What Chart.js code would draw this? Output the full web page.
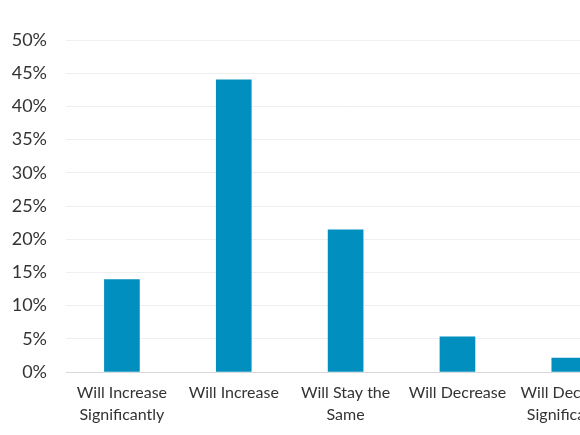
<!DOCTYPE html>
<html>
<head>
<meta charset="utf-8">
<script src="https://cdn.jsdelivr.net/npm/chart.js@4/dist/chart.umd.min.js"></script>
<style>
  html, body { margin: 0; padding: 0; background: #fff; overflow: hidden; }
  #wrap { width: 628px; height: 435px; }
</style>
</head>
<body>
<div id="wrap"><canvas id="chart" width="628" height="435"></canvas></div>
<script>
// data
const categories = [
  ['Will Increase', 'Significantly'],
  'Will Increase',
  ['Will Stay the', 'Same'],
  'Will Decrease',
  ['Will Decrease', 'Significantly']
];
const shares = [13.9, 44.0, 21.4, 5.3, 2.1];
const yTicks = [0, 5, 10, 15, 20, 25, 30, 35, 40, 45, 50];

const txt = '#333333';
const fontFam = "Lato, 'Open Sans', sans-serif";

new Chart(document.getElementById('chart'), {
  type: 'bar',
  data: {
    labels: categories,
    datasets: [{
      data: shares,
      backgroundColor: '#008fbf',
      borderWidth: 0,
      barThickness: 35
    }]
  },
  options: {
    responsive: false,
    animation: false,
    devicePixelRatio: 1,
    layout: { padding: { top: 40, left: 0, right: 0, bottom: 0 } },
    plugins: { legend: { display: false }, tooltip: { enabled: false } },
    scales: {
      x: {
        grid: { display: false, drawTicks: false },
        border: { display: true, color: '#d9d9d9', width: 1 },
        ticks: {
          color: txt,
          padding: 10,
          maxRotation: 0,
          autoSkip: false,
          font: { family: fontFam, size: 16, lineHeight: 1.38 }
        },
        afterFit: s => { s.height = 63; }
      },
      y: {
        min: 0,
        max: 50,
        afterBuildTicks: s => { s.ticks = yTicks.map(v => ({ value: v })); },
        grid: { color: '#efefef', lineWidth: 1, drawTicks: false },
        border: { display: false },
        ticks: {
          color: txt,
          padding: 19,
          font: { family: fontFam, size: 18 },
          callback: v => v + '%'
        },
        afterFit: s => { s.width = 66; }
      }
    }
  }
});
</script>
</body>
</html>
